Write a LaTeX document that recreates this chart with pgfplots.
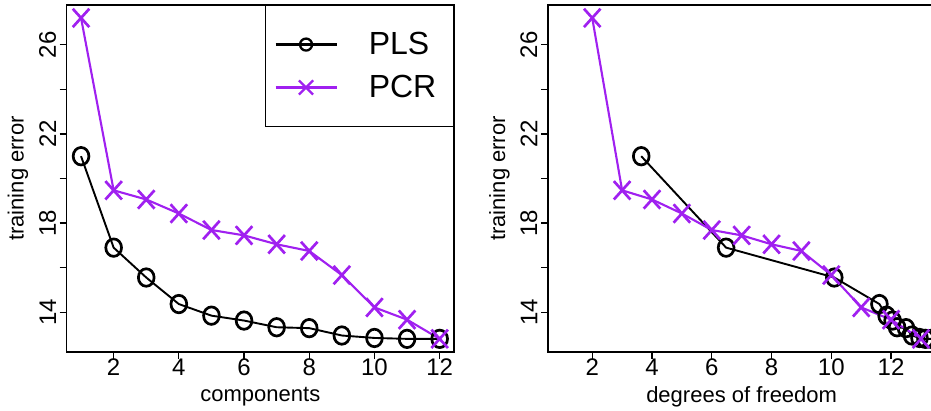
\documentclass[border=0pt]{standalone}
\usepackage{fontspec}
\setmainfont{Liberation Sans}
\usepackage{pgfplots}
\pgfplotsset{compat=1.18}
\definecolor{rpurple}{HTML}{A020F0}
\pgfplotsset{
 myaxis/.style={
  scale only axis, width=387.3pt, height=347pt,
  ymin=12.22, ymax=27.78,
  ytick={14,16,...,26}, yticklabels={14,,18,,22,,26},
  xtick={2,4,...,12},
  tick align=outside, xtick pos=bottom, ytick pos=left,
  major tick length=7pt,
  axis line style={line width=1.3pt},
  every tick/.style={line width=1.3pt, black},
  tick label style={font=\fontsize{24}{24}\selectfont},
  label style={font=\fontsize{22}{22}\selectfont},
  /pgf/number format/assume math mode=true,
  yticklabel style={rotate=90, anchor=south},
  xticklabel style={inner sep=0pt},
  xlabel style={at={(axis description cs:0.5,-0.1297)}, anchor=center},
  ylabel style={at={(axis description cs:-0.1257,0.5)}, anchor=center},
  ylabel={training error},
 },
 pls/.style={black, line width=1.9pt, mark=o, mark size=8.75pt, mark options={xscale=0.9, line width=2.7pt}},
 pcr/.style={rpurple, line width=2.1pt, mark=x, mark size=13pt, mark options={xscale=0.9, line width=2.7pt}},
}
\begin{document}
\begin{tikzpicture}
\useasboundingbox (0pt,0pt) rectangle (931pt,-410pt);
\begin{axis}[myaxis, at={(66.7pt,-352pt)}, anchor=south west,
  xmin=0.56, xmax=12.44, xlabel={components},
  legend image code/.code={
    \draw[#1, mark=none] (0pt,0pt) -- (61pt,0pt);
    \draw[#1] plot coordinates {(30.5pt,0pt)};
    \path (92pt,0pt);
  },
  legend style={at={(1,1)}, anchor=north east, draw=black, line width=1.3pt,
    font=\fontsize{32}{32}\selectfont, inner xsep=9pt, inner ysep=27pt,
    row sep=19pt, cells={anchor=west},
    nodes={inner sep=0pt}},
  legend cell align=left]
\addplot[pls, forget plot] coordinates {(1,21.0)(2,16.9)(3,15.56)(4,14.37)(5,13.85)(6,13.63)(7,13.33)(8,13.29)(9,12.96)(10,12.85)(11,12.81)(12,12.81)};
\addplot[pcr, forget plot] coordinates {(1,27.2)(2,19.47)(3,19.06)(4,18.43)(5,17.69)(6,17.45)(7,17.05)(8,16.75)(9,15.67)(10,14.22)(11,13.67)(12,12.81)};
\addlegendimage{black, line width=2.5pt, mark=o, mark size=6pt, mark options={line width=2.3pt}}
\addlegendentry{PLS}
\addlegendimage{rpurple, line width=2.5pt, mark=x, mark size=10pt, mark options={line width=2.3pt}}
\addlegendentry{PCR\hspace*{8pt}}
\end{axis}
\begin{axis}[myaxis, at={(548pt,-352pt)}, anchor=south west,
  xmin=0.52, xmax=13.48, xlabel={degrees of freedom}]
\addplot[pls] coordinates {(3.64,21.0)(6.48,16.9)(10.1,15.56)(11.61,14.37)(11.85,13.85)(12.05,13.63)(12.2,13.33)(12.5,13.29)(12.7,12.96)(12.95,12.85)(13.15,12.81)(13.35,12.81)};
\addplot[pcr] coordinates {(2,27.2)(3,19.47)(4,19.06)(5,18.43)(6,17.69)(7,17.45)(8,17.05)(9,16.75)(10,15.67)(11,14.22)(12,13.67)(13,12.81)};
\end{axis}
\end{tikzpicture}
\end{document}
